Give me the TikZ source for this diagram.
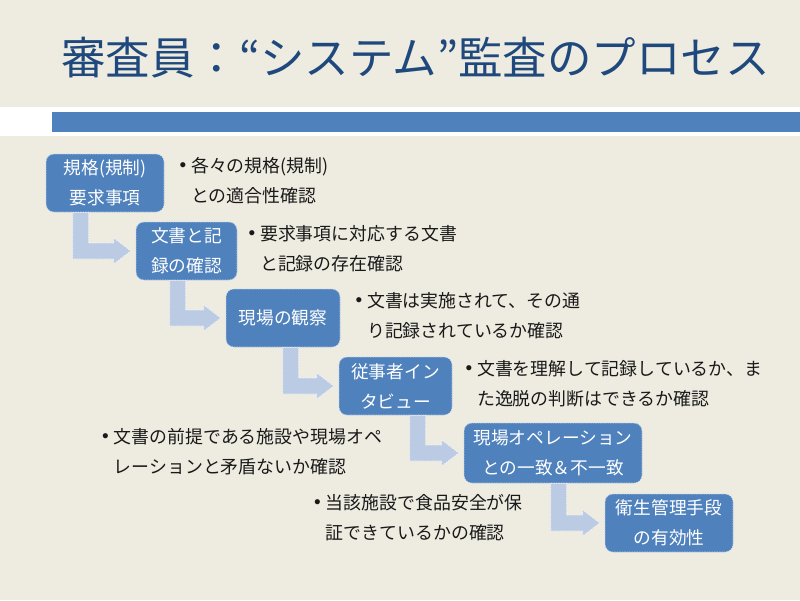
\documentclass[tikz,border=0pt]{standalone}
\usepackage{fontspec}
\setmainfont{Noto Sans CJK JP}
\newfontfamily\bulletfont{Liberation Sans}
\usetikzlibrary{positioning,calc}
\definecolor{slidebg}{RGB}{238,236,225}
\definecolor{boxblue}{RGB}{79,129,189}
\definecolor{arrowblue}{RGB}{188,203,228}
\definecolor{titleblue}{RGB}{31,73,125}
\definecolor{notegray}{RGB}{25,25,25}

\tikzset{
  stepbox/.style={draw=boxblue!35!white, dash pattern=on 1.5pt off 1pt, line width=0.6pt,
    fill=boxblue, rounded corners=8pt, text=white, align=center, inner sep=0pt,
    font=\fontsize{17.7}{30}\selectfont},
  flowarrow/.style={fill=arrowblue, draw=white!80!arrowblue, dash pattern=on 1.5pt off 1pt, line width=0.6pt},
  note/.style={anchor=west, inner sep=0pt, text=notegray, font=\fontsize{17.9}{30}\selectfont}
}
\newcommand{\bulletnote}[2]{\begin{tabular}{@{}l@{\hspace{5pt}}l@{}}{\bulletfont\fontsize{19}{30}\selectfont\raisebox{1pt}{•}} & #1\\ & #2\end{tabular}}

\begin{document}
\begin{tikzpicture}[x=1pt,y=-1pt]
            % Slide background
            \useasboundingbox (0,0) rectangle (800,600);
            \fill[slidebg] (0,0) rectangle (800,600);

            % Title and band
            \node[anchor=west, inner sep=0pt, text=titleblue, font=\fontsize{44.5}{44.5}\selectfont] (title) at (61,58) {審査員：“システム”監査のプロセス};
            \fill[white] (0,107) rectangle (800,136);
            \fill[boxblue] (52,112) rectangle (800,132);

            % Process steps
            \node[stepbox, minimum width=118pt, minimum height=58pt] (req) at (105,183) {規格(規制)\\要求事項};
            \node[stepbox, minimum width=101pt, minimum height=58pt] (docs) at (186.5,251) {文書と記\\録の確認};
            \node[stepbox, minimum width=114pt, minimum height=58pt] (observe) at (283,318) {現場の観察};
            \node[stepbox, minimum width=113pt, minimum height=58pt] (interview) at (395.5,386) {従事者イン\\タビュー};
            \node[stepbox, minimum width=178pt, minimum height=60pt] (operation) at (553,453) {現場オペレーション\\との一致＆不一致};
            \node[stepbox, minimum width=128pt, minimum height=58pt] (hygiene) at (669,523) {衛生管理手段\\の有効性};

            % Bent arrows between steps
            \foreach \from/\to/\off in {req/docs/63, docs/observe/56, observe/interview/56, interview/operation/54, operation/hygiene/54}
              \path[flowarrow] let \p1=(\to.west), \p2=(\from.south) in
                (\x1-\off pt,\y2) -- (\x1-\off pt+16pt,\y2) -- (\x1-\off pt+16pt,\y1+8pt) -- (\x1-22pt,\y1+8pt)
                -- (\x1-22pt,\y1+13pt) -- (\x1-5pt,\y1) -- (\x1-22pt,\y1-13pt) -- (\x1-22pt,\y1-8pt)
                -- (\x1-\off pt,\y1-8pt) -- cycle;

            % Notes
            \node[note, right=15pt of req, yshift=2pt] (reqnote) {\bulletnote{各々の規格(規制)}{との適合性確認}};
            \node[note, right=11pt of docs, yshift=2pt] (docsnote) {\bulletnote{要求事項に対応する文書}{と記録の存在確認}};
            \node[note, right=15pt of observe, yshift=2pt] (observenote) {\bulletnote{文書は実施されて、その通}{り記録されているか確認}};
            \node[note, right=13pt of interview, yshift=2pt] (interviewnote) {\bulletnote{文書を理解して記録しているか、ま}{た逸脱の判断はできるか確認}};
            \node[note] (operationnote) at (102,452) {\bulletnote{文書の前提である施設や現場オペ}{レーションと矛盾ないか確認}};
            \node[note] (hygienenote) at (314,518) {\bulletnote{当該施設で食品安全が保}{証できているかの確認}};
        \end{tikzpicture}
\end{document}
